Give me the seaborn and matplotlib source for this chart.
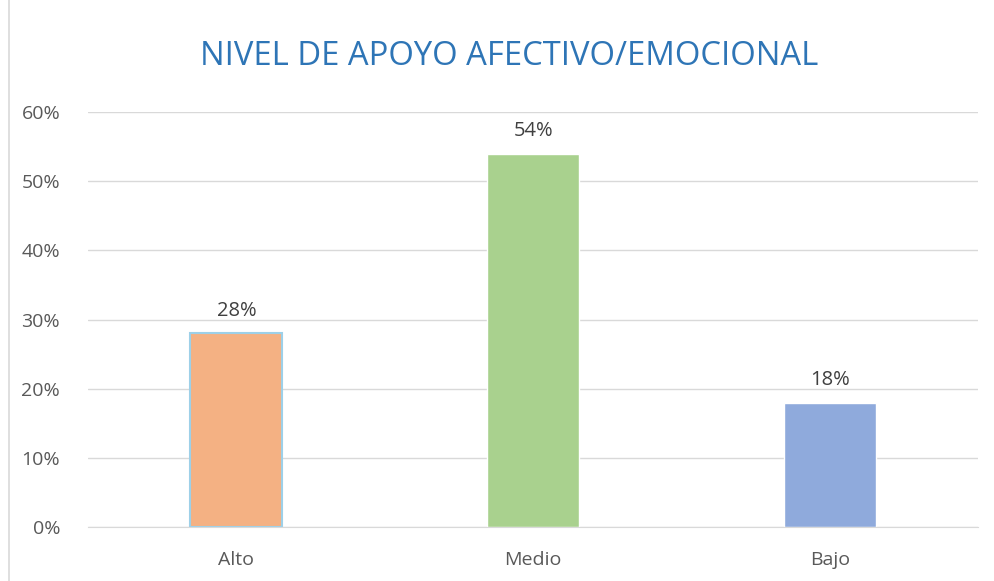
import matplotlib
matplotlib.use("Agg")
import matplotlib.pyplot as plt
import seaborn as sns
import pandas as pd
from matplotlib.patches import Rectangle
from matplotlib.ticker import PercentFormatter

# Data
categories = ['Alto', 'Medio', 'Bajo']
values = [0.28, 0.54, 0.18]
colors = ['#F4B183', '#A9D18E', '#8FAADC']

df = pd.DataFrame({'nivel': categories, 'pct': values})

sns.set_style('white')
plt.rcParams['font.family'] = ['Open Sans', 'DejaVu Sans']

fig = plt.figure(figsize=(9.95, 5.81), dpi=100)
ax = fig.add_axes([0.0884, 0.093, 0.895, 0.714])

sns.barplot(data=df, x='nivel', y='pct', hue='nivel', palette=colors,
            width=0.31, legend=False, ax=ax, saturation=1)

# light blue outline on the first bar, as in the original
ax.patches[0].set_edgecolor('#9DD0E8')
ax.patches[0].set_linewidth(1.5)

ax.set_ylim(0, 0.6)
ax.set_yticks([0, 0.1, 0.2, 0.3, 0.4, 0.5, 0.6])
ax.yaxis.set_major_formatter(PercentFormatter(1.0, decimals=0))
ax.grid(axis='y', color='#D9D9D9', linewidth=1)
ax.set_axisbelow(True)
for s in ['top', 'right', 'left']:
    ax.spines[s].set_visible(False)
ax.spines['bottom'].set_color('#D9D9D9')
ax.tick_params(axis='both', length=0, labelsize=14, colors='#595959')
ax.tick_params(axis='x', pad=17)
ax.tick_params(axis='y', pad=20)
ax.set_xlabel('')
ax.set_ylabel('')

for p, v in zip(ax.patches, values):
    ax.text(p.get_x() + p.get_width() / 2, v + 0.018, f'{int(round(v * 100))}%',
            ha='center', va='bottom', fontsize=14.5, color='#404040')

fig.text(0.512, 0.902, 'NIVEL DE APOYO AFECTIVO/EMOCIONAL', ha='center', va='center',
         fontsize=23.6, color='#2E75B6')

fig.patches.append(Rectangle((0.009, -0.01), 0.995, 1.02, transform=fig.transFigure,
                             fill=False, edgecolor='#D9D9D9', linewidth=1.2))

fig.savefig('out.png', dpi=100)
